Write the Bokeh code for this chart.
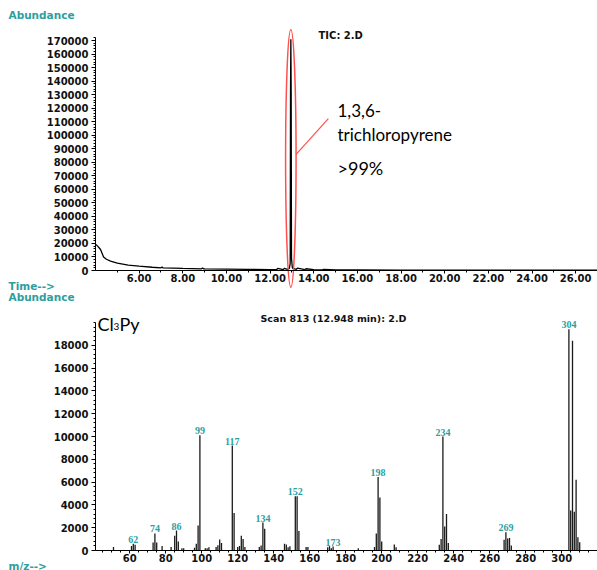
from bokeh.plotting import figure
from bokeh.layouts import column
from bokeh.models import (Label, LabelSet, ColumnDataSource, FixedTicker,
                          PrintfTickFormatter, Range1d)
from bokeh.embed import file_html
from bokeh.resources import INLINE

# ---- total ion chromatogram (TIC) ----
tic_time = [4.00, 4.10, 4.23, 4.37, 4.50, 4.69, 5.00, 5.50, 6.00, 6.60, 7.00, 7.05,
            7.10, 8.00, 8.85, 8.90, 8.95, 9.00, 10.00, 11.00, 12.00, 12.30, 12.35,
            12.60, 12.65, 12.80, 12.88, 12.92, 12.935, 12.95, 12.965, 12.98, 13.02,
            13.20, 13.25, 13.60, 13.65, 14.00, 14.40, 14.45, 15.00, 16.00, 18.00,
            20.00, 22.00, 24.00, 26.00, 27.00]
tic_abund = [19500, 18000, 15500, 10000, 8300, 7000, 5500, 4000, 3200, 2400, 2000, 2600,
             1900, 1500, 1200, 1900, 1300, 1200, 1000, 800, 700, 700, 1500,
             650, 1600, 800, 1500, 5000, 132000, 171000, 131000, 9000, 1800,
             900, 1700, 700, 1300, 600, 500, 900, 450, 400, 350,
             300, 300, 280, 260, 250]
tic_xticks = [6, 8, 10, 12, 14, 16, 18, 20, 22, 24, 26]
tic_yticks = list(range(0, 170001, 10000))

# ---- mass spectrum of scan 813 ----
ms_mz = [51, 61, 62, 63, 73, 74, 75, 78, 83, 85, 86, 87, 89, 90,
         96, 97, 98, 99, 102, 103, 104, 108, 109, 110, 111, 117, 118,
         120, 121, 122, 123, 124, 132, 133, 134, 135, 146, 147, 148, 149,
         152, 153, 154, 158, 159, 170, 171, 172, 173, 187,
         196, 197, 198, 199, 200, 207, 208, 232, 233, 234, 235, 236, 237,
         268, 269, 270, 271, 272, 304, 305, 306, 307, 308, 309, 310]
ms_abund = [300, 400, 600, 500, 700, 1500, 700, 400, 300, 1300, 1750, 800, 200, 200,
            250, 600, 2200, 10100, 200, 200, 280, 300, 450, 970, 650, 9200, 3300,
            300, 400, 1300, 1000, 300, 300, 440, 2450, 1900, 590, 530, 290, 380,
            4750, 4750, 1700, 300, 300, 280, 380, 200, 350, 200,
            300, 1500, 6450, 4650, 800, 530, 290, 500, 1000, 10000, 2100, 3200, 650,
            950, 1600, 1050, 1100, 430, 19400, 3500, 18400, 3400, 6200, 1170, 730]
ms_peak_labels = [62, 74, 86, 99, 117, 134, 152, 173, 198, 234, 269, 304]
ms_xticks = [60, 80, 100, 120, 140, 160, 180, 200, 220, 240, 260, 280, 300]
ms_yticks = list(range(0, 18001, 2000))

TEAL = "#2f9e9e"
RED = "#ff4f4f"
TICK_FONT = "DejaVu Sans"
ANN_FONT = "Lato"


def style_axes(p, x_at, y_at, x_bounds, y_bounds):
    """Axes pinned at data positions so the frame can fill the whole canvas."""
    p.xaxis[0].fixed_location = y_at
    p.yaxis[0].fixed_location = x_at
    p.xaxis[0].bounds = x_bounds
    p.yaxis[0].bounds = y_bounds
    for ax in (p.xaxis[0], p.yaxis[0]):
        ax.axis_line_color = "black"
        ax.major_tick_line_color = "black"
        ax.minor_tick_line_color = "black"
        ax.major_tick_in = 0
        ax.minor_tick_in = 0
        ax.minor_tick_out = 2
        ax.major_label_text_font = TICK_FONT
        ax.major_label_text_font_style = "bold"
        ax.major_label_text_font_size = "10px"
        ax.major_label_text_color = "#111111"
    p.xaxis[0].major_tick_out = 3
    p.xaxis[0].major_label_standoff = 0
    p.yaxis[0].major_tick_out = 4
    p.yaxis[0].major_label_standoff = 3
    p.grid.visible = False
    p.outline_line_color = None
    p.background_fill_color = "white"
    p.border_fill_color = "white"


def screen_label(p, x, y, text, font=TICK_FONT, size="10.5px", style="bold",
                 color="#111111", baseline="middle"):
    p.add_layout(Label(x=x, y=y, x_units="screen", y_units="screen", text=text,
                       text_font=font, text_font_size=size, text_font_style=style,
                       text_color=color, text_baseline=baseline))


# ---------------- chromatogram panel (597 x 290) ----------------
px_per_min = 502 / 23.0
px_per_abund = 230 / 170000
p1 = figure(width=597, height=290, output_backend="svg", toolbar_location=None,
            x_range=Range1d(4.0 - 95 / px_per_min, 27.0),
            y_range=Range1d(-20 / px_per_abund, 270 / px_per_abund),
            min_border_left=0, min_border_right=0, min_border_top=0,
            min_border_bottom=0)
p1.line(tic_time, tic_abund, line_color="black", line_width=1.3)
style_axes(p1, 4.0, 0, (4.0, 27.0), (0, 172000))
p1.xaxis[0].ticker = FixedTicker(ticks=tic_xticks,
                                 minor_ticks=[float(v) for v in range(5, 28)])
p1.xaxis[0].formatter = PrintfTickFormatter(format="%.2f")
p1.yaxis[0].ticker = FixedTicker(ticks=tic_yticks,
                                 minor_ticks=list(range(0, 172001, 2000)))
p1.yaxis[0].formatter = PrintfTickFormatter(format="%d")

# ring around the main peak and the callout line to its label
p1.ellipse(x=[12.95], y=[82800], width=[0.48], height=[190600],
           fill_color=None, line_color=RED, line_width=1.5)
p1.segment(x0=[13.18], y0=[85700], x1=[14.67], y1=[112300],
           line_color=RED, line_width=1.2)

screen_label(p1, 337, 180, "1,3,6-", font=ANN_FONT, size="17px", style="normal",
             color="black")
screen_label(p1, 337, 156, "trichloropyrene", font=ANN_FONT, size="17px",
             style="normal", color="black")
screen_label(p1, 337, 123, ">99%", font=ANN_FONT, size="18px", style="normal",
             color="black")
screen_label(p1, 318, 255, "TIC: 2.D", size="10px")
screen_label(p1, 8, 276, "Abundance", color=TEAL)
screen_label(p1, 8, 5, "Time-->", color=TEAL)

# ---------------- mass spectrum panel (597 x 280) ----------------
px_per_mz = 1.8
px_per_count = 228 / 20000
p2 = figure(width=597, height=280, output_backend="svg", toolbar_location=None,
            x_range=Range1d(41 - 95 / px_per_mz, 41 + 502 / px_per_mz),
            y_range=Range1d(-20 / px_per_count, 260 / px_per_count),
            min_border_left=0, min_border_right=0, min_border_top=0,
            min_border_bottom=0)
p2.segment(x0=ms_mz, y0=[0] * len(ms_mz), x1=ms_mz, y1=ms_abund,
           line_color="#1a1a1a", line_width=1.3)
style_axes(p2, 41, 0, (41, 41 + 502 / px_per_mz), (0, 20000))
p2.xaxis[0].ticker = FixedTicker(ticks=ms_xticks, minor_ticks=list(range(45, 321, 5)))
p2.yaxis[0].ticker = FixedTicker(ticks=ms_yticks,
                                 minor_ticks=list(range(0, 20001, 400)))
p2.yaxis[0].formatter = PrintfTickFormatter(format="%d")

lookup = dict(zip(ms_mz, ms_abund))
lab_src = ColumnDataSource(dict(x=ms_peak_labels,
                                y=[lookup[m] for m in ms_peak_labels],
                                t=[str(m) for m in ms_peak_labels]))
p2.add_layout(LabelSet(x="x", y="y", text="t", source=lab_src, y_offset=1,
                       text_align="center", text_baseline="bottom",
                       text_font=TICK_FONT, text_font_style="bold",
                       text_font_size="10px", text_color=TEAL))

screen_label(p2, 97, 247, "Cl", font=ANN_FONT, size="18px", style="normal",
             color="black", baseline="alphabetic")
screen_label(p2, 113, 244, "3", font=ANN_FONT, size="10px", style="normal",
             color="black", baseline="alphabetic")
screen_label(p2, 119, 247, "Py", font=ANN_FONT, size="18px", style="normal",
             color="black", baseline="alphabetic")
screen_label(p2, 260, 252, "Scan 813 (12.948 min): 2.D", size="9.5px")
screen_label(p2, 8, 274, "Abundance", color=TEAL)
screen_label(p2, 8, 5, "m/z-->", color=TEAL)

layout = column(p1, p2, spacing=0)
open("out.html", "w").write(file_html(layout, INLINE))
